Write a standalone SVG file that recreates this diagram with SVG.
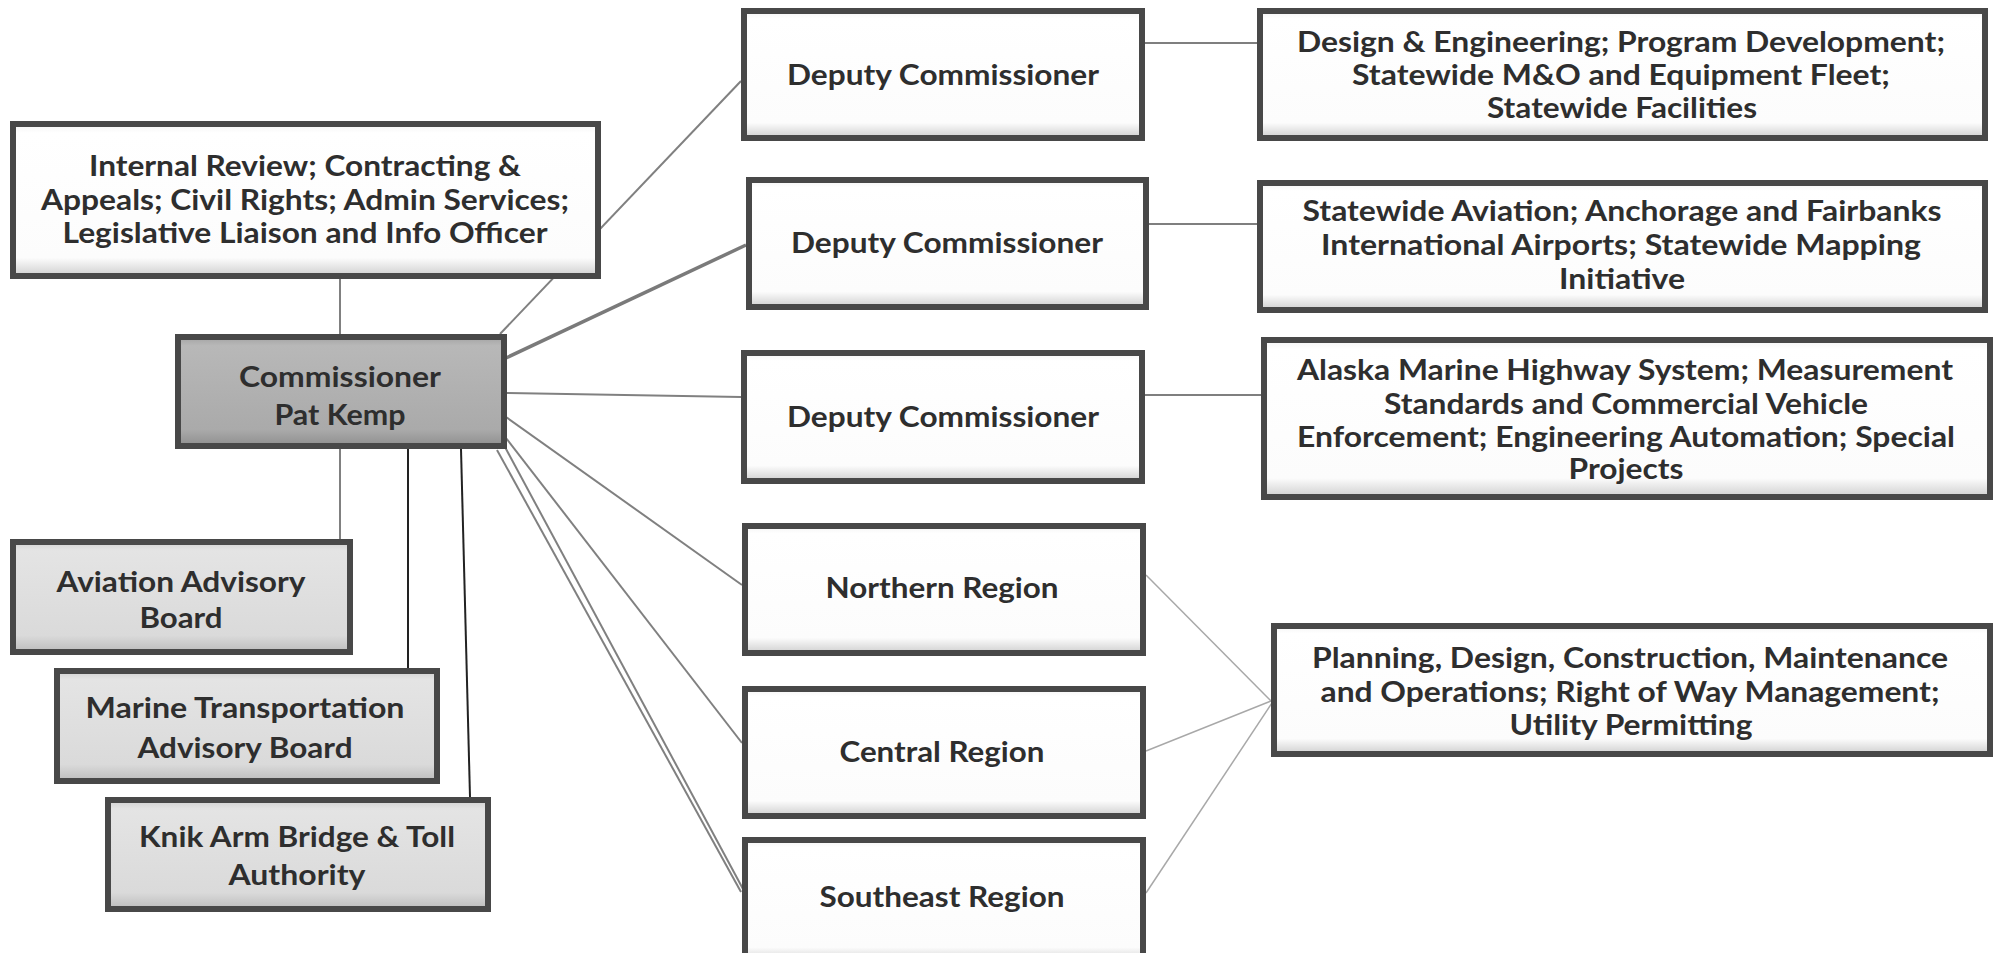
<svg xmlns="http://www.w3.org/2000/svg" width="1999" height="953" viewBox="0 0 1999 953">
<defs>
<linearGradient id="gWhite" x1="0" y1="0" x2="0" y2="1">
<stop offset="0" stop-color="#f4f4f4"/><stop offset="0.06" stop-color="#ffffff"/><stop offset="0.88" stop-color="#fcfcfc"/><stop offset="1" stop-color="#cfcfcf"/>
</linearGradient>
<linearGradient id="gDark" x1="0" y1="0" x2="0" y2="1">
<stop offset="0" stop-color="#a3a3a3"/><stop offset="0.08" stop-color="#b8b8b8"/><stop offset="0.85" stop-color="#aaaaaa"/><stop offset="1" stop-color="#8f8f8f"/>
</linearGradient>
<linearGradient id="gLight" x1="0" y1="0" x2="0" y2="1">
<stop offset="0" stop-color="#d0d0d0"/><stop offset="0.08" stop-color="#e4e4e4"/><stop offset="0.85" stop-color="#dadada"/><stop offset="1" stop-color="#bcbcbc"/>
</linearGradient>
<style>
.box{stroke:#484848;stroke-width:6}
.w{fill:url(#gWhite)}
.d{fill:url(#gDark)}
.l{fill:url(#gLight)}
text{font-family:Lato,"Open Sans","Liberation Sans",sans-serif;font-weight:700;font-size:29px;fill:#2e2e2e;text-anchor:middle}
.c{fill:none;stroke:#808080;stroke-width:2}
.thick{stroke-width:3.5;stroke:#7a7a7a}
.h{fill:none;stroke:#555;stroke-width:1.6}
.faint{fill:none;stroke:#a8a8a8;stroke-width:1.5}
.blk{fill:none;stroke:#222;stroke-width:2}
</style>
</defs>
<rect width="1999" height="953" fill="#ffffff"/>
<g id="connectors">
<line class="c" x1="340" y1="279" x2="340" y2="334"/>
<line class="c" x1="340" y1="449" x2="340" y2="539"/>
<line class="blk" x1="408" y1="449" x2="408" y2="675"/>
<line class="blk" x1="461" y1="449" x2="470" y2="797"/>
<line class="c" x1="500" y1="334" x2="741" y2="81"/>
<line class="c thick" x1="506" y1="358" x2="746" y2="245"/>
<line class="c" x1="506" y1="393" x2="741" y2="397"/>
<line class="c" x1="506" y1="417" x2="742" y2="585"/>
<line class="c" x1="506" y1="438" x2="742" y2="743"/>
<line class="c" x1="497" y1="450" x2="741" y2="892"/>
<line class="c" x1="505" y1="447" x2="743" y2="889"/>
<line class="h" x1="1145" y1="43" x2="1257" y2="43"/>
<line class="h" x1="1149" y1="224" x2="1257" y2="224"/>
<line class="h" x1="1145" y1="395" x2="1261" y2="395"/>
<line class="faint" x1="1146" y1="575" x2="1271" y2="701"/>
<line class="faint" x1="1146" y1="751" x2="1271" y2="701"/>
<line class="faint" x1="1146" y1="893" x2="1272" y2="703"/>
</g>
<g id="internal">
<rect class="box w" x="13" y="124" width="585" height="152"/>
<text x="305" y="176" textLength="432" lengthAdjust="spacingAndGlyphs">Internal Review; Contracting &amp;</text>
<text x="305" y="210" textLength="528" lengthAdjust="spacingAndGlyphs">Appeals; Civil Rights; Admin Services;</text>
<text x="305" y="243" textLength="485" lengthAdjust="spacingAndGlyphs">Legislative Liaison and Info Officer</text>
</g>
<g id="commissioner">
<rect class="box d" x="178" y="337" width="326" height="109"/>
<text x="340" y="387" textLength="202" lengthAdjust="spacingAndGlyphs">Commissioner</text>
<text x="340" y="425" textLength="131" lengthAdjust="spacingAndGlyphs">Pat Kemp</text>
</g>
<g id="aviation">
<rect class="box l" x="13" y="542" width="337" height="110"/>
<text x="181" y="592" textLength="249" lengthAdjust="spacingAndGlyphs">Aviation Advisory</text>
<text x="181" y="628" textLength="83" lengthAdjust="spacingAndGlyphs">Board</text>
</g>
<g id="marine">
<rect class="box l" x="57" y="671" width="380" height="110"/>
<text x="245" y="718" textLength="319" lengthAdjust="spacingAndGlyphs">Marine Transportation</text>
<text x="245" y="758" textLength="215" lengthAdjust="spacingAndGlyphs">Advisory Board</text>
</g>
<g id="knik">
<rect class="box l" x="108" y="800" width="380" height="109"/>
<text x="297" y="847" textLength="316" lengthAdjust="spacingAndGlyphs">Knik Arm Bridge &amp; Toll</text>
<text x="297" y="885" textLength="137" lengthAdjust="spacingAndGlyphs">Authority</text>
</g>
<g id="deputy1">
<rect class="box w" x="744" y="11" width="398" height="127"/>
<text x="943" y="85" textLength="312" lengthAdjust="spacingAndGlyphs">Deputy Commissioner</text>
</g>
<g id="deputy2">
<rect class="box w" x="749" y="180" width="397" height="127"/>
<text x="947" y="253" textLength="312" lengthAdjust="spacingAndGlyphs">Deputy Commissioner</text>
</g>
<g id="deputy3">
<rect class="box w" x="744" y="353" width="398" height="128"/>
<text x="943" y="427" textLength="312" lengthAdjust="spacingAndGlyphs">Deputy Commissioner</text>
</g>
<g id="northern">
<rect class="box w" x="745" y="526" width="398" height="127"/>
<text x="942" y="598" textLength="233" lengthAdjust="spacingAndGlyphs">Northern Region</text>
</g>
<g id="central">
<rect class="box w" x="745" y="689" width="398" height="127"/>
<text x="942" y="762" textLength="205" lengthAdjust="spacingAndGlyphs">Central Region</text>
</g>
<g id="southeast">
<rect class="box w" x="745" y="840" width="398" height="122"/>
<text x="942" y="907" textLength="245" lengthAdjust="spacingAndGlyphs">Southeast Region</text>
</g>
<g id="r1">
<rect class="box w" x="1260" y="11" width="725" height="127"/>
<text x="1621" y="52" textLength="648" lengthAdjust="spacingAndGlyphs">Design &amp; Engineering; Program Development;</text>
<text x="1621" y="85" textLength="538" lengthAdjust="spacingAndGlyphs">Statewide M&amp;O and Equipment Fleet;</text>
<text x="1622" y="118" textLength="270" lengthAdjust="spacingAndGlyphs">Statewide Facilities</text>
</g>
<g id="r2">
<rect class="box w" x="1260" y="183" width="725" height="127"/>
<text x="1622" y="221" textLength="639" lengthAdjust="spacingAndGlyphs">Statewide Aviation; Anchorage and Fairbanks</text>
<text x="1621" y="255" textLength="600" lengthAdjust="spacingAndGlyphs">International Airports; Statewide Mapping</text>
<text x="1622" y="289" textLength="126" lengthAdjust="spacingAndGlyphs">Initiative</text>
</g>
<g id="r3">
<rect class="box w" x="1264" y="340" width="726" height="157"/>
<text x="1625" y="380" textLength="656" lengthAdjust="spacingAndGlyphs">Alaska Marine Highway System; Measurement</text>
<text x="1626" y="414" textLength="484" lengthAdjust="spacingAndGlyphs">Standards and Commercial Vehicle</text>
<text x="1626" y="447" textLength="658" lengthAdjust="spacingAndGlyphs">Enforcement; Engineering Automation; Special</text>
<text x="1626" y="479" textLength="115" lengthAdjust="spacingAndGlyphs">Projects</text>
</g>
<g id="planning">
<rect class="box w" x="1274" y="626" width="716" height="128"/>
<text x="1630" y="668" textLength="636" lengthAdjust="spacingAndGlyphs">Planning, Design, Construction, Maintenance</text>
<text x="1630" y="702" textLength="619" lengthAdjust="spacingAndGlyphs">and Operations; Right of Way Management;</text>
<text x="1631" y="735" textLength="243" lengthAdjust="spacingAndGlyphs">Utility Permitting</text>
</g>
</svg>
